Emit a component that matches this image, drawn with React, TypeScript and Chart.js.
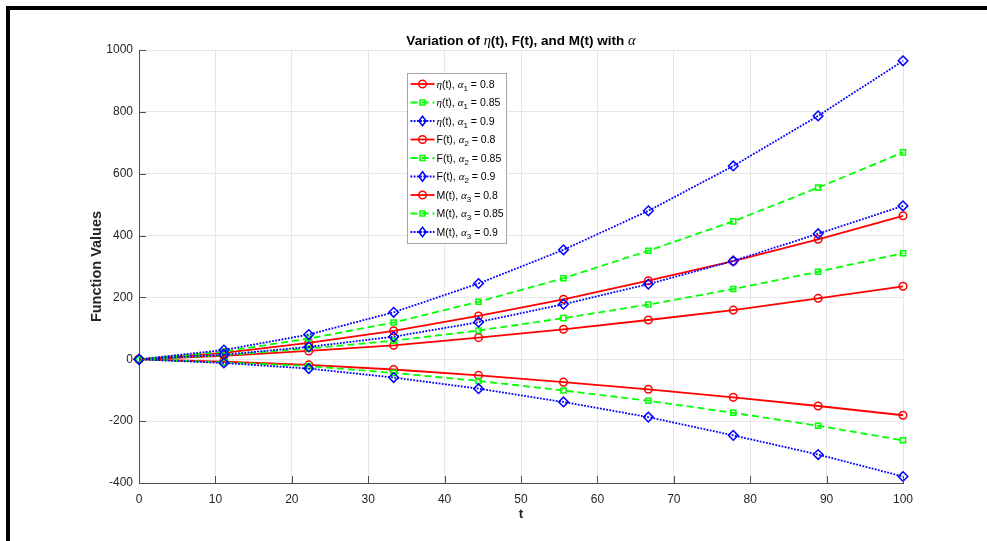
import React, { useEffect, useRef } from "react";
import { Chart, registerables } from "chart.js";

Chart.register(...registerables);

const W = 987;
const H = 541;

// ---- data ----
const tValues = [0, 11.11, 22.22, 33.33, 44.44, 55.56, 66.67, 77.78, 88.89, 100];

const etaA08 = [0, 21, 53, 92, 140, 194, 254, 317, 388, 464];
const etaA085 = [0, 25, 67, 119, 186, 262, 351, 446, 555, 669];
const etaA09 = [0, 30, 80, 152, 245, 354, 480, 625, 787, 965];
const fA08 = [0, 11, 27, 45, 70, 97, 127, 159, 197, 236];
const fA085 = [0, 13, 35, 60, 93, 133, 177, 227, 283, 343];
const fA09 = [0, 15, 40, 73, 120, 178, 243, 318, 406, 496];
const mA08 = [0, -8, -18, -33, -52, -74, -97, -123, -151, -181];
const mA085 = [0, -10, -22, -44, -70, -101, -134, -173, -215, -262];
const mA09 = [0, -12, -30, -59, -95, -138, -187, -246, -308, -379];

const seriesFunc = ["η", "η", "η", "F", "F", "F", "M", "M", "M"];
const seriesAlphaIndex = ["1", "1", "1", "2", "2", "2", "3", "3", "3"];
const seriesAlphaValue = ["0.8", "0.85", "0.9", "0.8", "0.85", "0.9", "0.8", "0.85", "0.9"];
const seriesValues = [etaA08, etaA085, etaA09, fA08, fA085, fA09, mA08, mA085, mA09];

const xTicks = [0, 10, 20, 30, 40, 50, 60, 70, 80, 90, 100];
const yTicks = [-400, -200, 0, 200, 400, 600, 800, 1000];

const xLabel = "t";
const yLabel = "Function Values";

// ---- styles ----
const SANS = "'Liberation Sans', Arial, Helvetica, sans-serif";
const SERIF = "'Liberation Serif', 'DejaVu Serif', serif";
const styleByAlpha: Record<string, { color: string; dash: number[]; point: string; radius: number }> = {
  "0.8": { color: "#ff0000", dash: [], point: "circle", radius: 3.8 },
  "0.85": { color: "#00ff00", dash: [7, 4], point: "rect", radius: 3.6 },
  "0.9": { color: "#0000ff", dash: [1.8, 1.4], point: "rectRot", radius: 4.8 },
};

type Part = { t: string; f: string; dy?: number };

function drawRich(ctx: CanvasRenderingContext2D, parts: Part[], x: number, y: number, align: "left" | "center") {
  let total = 0;
  for (const p of parts) {
    ctx.font = p.f;
    total += ctx.measureText(p.t).width;
  }
  let cx = align === "center" ? x - total / 2 : x;
  ctx.textAlign = "left";
  ctx.textBaseline = "alphabetic";
  for (const p of parts) {
    ctx.font = p.f;
    ctx.fillText(p.t, cx, y + (p.dy || 0));
    cx += ctx.measureText(p.t).width;
  }
}

function drawMarker(ctx: CanvasRenderingContext2D, kind: string, x: number, y: number, r: number) {
  ctx.beginPath();
  if (kind === "circle") {
    ctx.arc(x, y, r, 0, Math.PI * 2);
  } else if (kind === "rect") {
    const s = r * Math.SQRT1_2;
    ctx.rect(x - s, y - s, 2 * s, 2 * s);
  } else {
    ctx.moveTo(x, y - r);
    ctx.lineTo(x + r * 0.75, y);
    ctx.lineTo(x, y + r);
    ctx.lineTo(x - r * 0.75, y);
    ctx.closePath();
  }
  ctx.stroke();
}

const decorPlugin = {
  id: "matlabDecor",
  afterDraw(chart: any) {
    const ctx: CanvasRenderingContext2D = chart.ctx;
    const area = chart.chartArea;
    const xs = chart.scales.x;
    const ys = chart.scales.y;
    ctx.save();

    // inward ticks
    ctx.strokeStyle = "#4d4d4d";
    ctx.lineWidth = 1;
    ctx.setLineDash([]);
    ctx.beginPath();
    for (const v of xTicks) {
      const px = Math.round(xs.getPixelForValue(v)) + 0.5;
      ctx.moveTo(px, area.bottom);
      ctx.lineTo(px, area.bottom - 7);
    }
    for (const v of yTicks) {
      const py = Math.round(ys.getPixelForValue(v)) + 0.5;
      ctx.moveTo(area.left, py);
      ctx.lineTo(area.left + 7, py);
    }
    ctx.stroke();

    // title
    ctx.fillStyle = "#000000";
    const tb = `bold 13.5px ${SANS}`;
    const ti = `italic 14.5px ${SERIF}`;
    drawRich(
      ctx,
      [
        { t: "Variation of ", f: tb },
        { t: "η", f: ti },
        { t: "(t), F(t), and M(t) with ", f: tb },
        { t: "α", f: ti },
      ],
      (area.left + area.right) / 2,
      45,
      "center"
    );

    // axis labels
    ctx.fillStyle = "#262626";
    ctx.font = `bold 13.5px ${SANS}`;
    ctx.textAlign = "center";
    ctx.textBaseline = "middle";
    ctx.fillText(xLabel, (area.left + area.right) / 2, 514);
    ctx.save();
    ctx.translate(97, (area.top + area.bottom) / 2);
    ctx.rotate(-Math.PI / 2);
    ctx.font = `bold 14.5px ${SANS}`;
    ctx.fillText(yLabel, 0, 0);
    ctx.restore();

    // legend
    const lx = 407.5, ly = 73.5, lw = 99, lh = 170;
    ctx.fillStyle = "#ffffff";
    ctx.fillRect(lx, ly, lw, lh);
    ctx.strokeStyle = "#a6a6a6";
    ctx.lineWidth = 1;
    ctx.setLineDash([]);
    ctx.strokeRect(lx, ly, lw, lh);
    const fs = `10.5px ${SANS}`;
    const fsub = `8px ${SANS}`;
    const fi = `italic 11px ${SERIF}`;
    for (let i = 0; i < seriesFunc.length; i++) {
      const st = styleByAlpha[seriesAlphaValue[i]];
      const y = 84 + i * 18.5;
      ctx.strokeStyle = st.color;
      ctx.lineWidth = 1.8;
      ctx.setLineDash(st.dash);
      ctx.beginPath();
      ctx.moveTo(410.5, y);
      ctx.lineTo(434.5, y);
      ctx.stroke();
      ctx.setLineDash([]);
      ctx.lineWidth = 1.5;
      drawMarker(ctx, st.point, 422.5, y, st.radius);
      ctx.fillStyle = "#000000";
      const fn = seriesFunc[i];
      drawRich(
        ctx,
        [
          { t: fn, f: fn === "η" ? fi : fs },
          { t: "(t), ", f: fs },
          { t: "α", f: fi },
          { t: seriesAlphaIndex[i], f: fsub, dy: 3 },
          { t: " = " + seriesAlphaValue[i], f: fs },
        ],
        436.5,
        y + 3.8,
        "left"
      );
    }

    // outer black frame
    ctx.fillStyle = "#000000";
    ctx.fillRect(6, 6, W - 6, 4);
    ctx.fillRect(6, 6, 4, H - 6);

    ctx.restore();
  },
};

export default function App() {
  const ref = useRef<HTMLCanvasElement | null>(null);

  useEffect(() => {
    if (!ref.current) return;
    const datasets = seriesValues.map((arr, i) => {
      const st = styleByAlpha[seriesAlphaValue[i]];
      return {
        label: `${seriesFunc[i]}(t), α${seriesAlphaIndex[i]} = ${seriesAlphaValue[i]}`,
        data: tValues.map((t, j) => ({ x: t, y: arr[j] })),
        borderColor: st.color,
        backgroundColor: "rgba(0,0,0,0)",
        borderWidth: 1.8,
        borderDash: st.dash,
        pointStyle: st.point,
        pointRadius: st.radius,
        pointBorderWidth: 1.5,
        pointBorderColor: st.color,
        pointBackgroundColor: "rgba(0,0,0,0)",
        fill: false,
        tension: 0,
        clip: false,
        order: -i,
      };
    });

    const chart = new Chart(ref.current, {
      type: "line",
      data: { datasets },
      options: {
        animation: false,
        responsive: false,
        devicePixelRatio: 1,
        layout: { padding: { left: 0, top: 50, right: 84, bottom: 0 } },
        plugins: {
          legend: { display: false },
          title: { display: false },
          tooltip: { enabled: false },
        },
        scales: {
          x: {
            type: "linear",
            min: 0,
            max: 100,
            afterBuildTicks: (s: any) => {
              s.ticks = xTicks.map((v) => ({ value: v }));
            },
            afterFit: (s: any) => {
              s.height = 58;
            },
            grid: { color: "#e6e6e6", lineWidth: 1, drawTicks: false },
            border: { display: true, color: "#4d4d4d", width: 1 },
            ticks: {
              color: "#262626",
              font: { family: SANS, size: 12 },
              padding: 9,
              maxRotation: 0,
              autoSkip: false,
              callback: (v: any) => String(v),
            },
          },
          y: {
            type: "linear",
            min: -400,
            max: 1000,
            afterBuildTicks: (s: any) => {
              s.ticks = yTicks.map((v) => ({ value: v }));
            },
            afterFit: (s: any) => {
              s.width = 139;
            },
            grid: { color: "#e6e6e6", lineWidth: 1, drawTicks: false },
            border: { display: true, color: "#4d4d4d", width: 1 },
            ticks: {
              color: "#262626",
              font: { family: SANS, size: 12 },
              padding: 6,
              autoSkip: false,
              callback: (v: any) => String(v),
            },
          },
        },
      },
      plugins: [decorPlugin],
    } as any);

    return () => chart.destroy();
  }, []);

  return (
    <div style={{ position: "fixed", left: 0, top: 0, width: W, height: H, background: "#ffffff" }}>
      <canvas ref={ref} width={W} height={H} style={{ width: W, height: H, display: "block" }} />
    </div>
  );
}
